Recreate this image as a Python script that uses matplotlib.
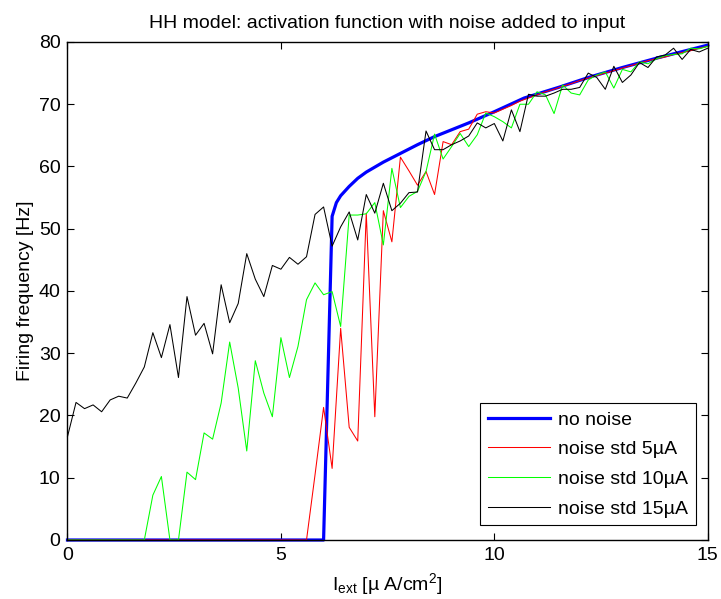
# HH model firing rate vs input current, with noisy input
import matplotlib
matplotlib.use("Agg")
import matplotlib.pyplot as plt
import numpy as np

# input current grid (0:0.2:15)
I_ext = np.linspace(0, 15, 76)

# no noise curve (read at key points)
I_clean = [0, 6.0, 6.2, 6.3, 6.4, 6.6, 6.8, 7.0, 7.4, 7.8, 8.2, 8.6, 9.0, 9.4,
           10.0, 10.7, 11.5, 12.25, 13.0, 13.8, 14.6, 15.0]
f_clean = [0, 0, 52.0, 54.2, 55.3, 56.8, 58.1, 59.1, 60.7, 62.1, 63.5, 64.8,
           65.9, 67.0, 68.8, 71.0, 72.7, 74.4, 75.9, 77.4, 78.8, 79.5]

f_std5 = [0] * 29 + [
    10.5, 21.3, 11.5, 34.0, 18.1, 15.9, 52.5, 19.8, 52.9, 47.9,
    61.5, 59.3, 57.0, 59.2, 55.5, 64.0, 63.5, 65.6, 66.0, 68.4,
    68.8, 68.6, 69.2, 69.8, 70.5, 71.0, 71.5, 72.0, 72.4, 72.9,
    73.3, 73.8, 74.2, 74.6, 75.0, 75.4, 75.8, 76.2, 76.6, 77.0,
    77.3, 77.6, 78.0, 78.3, 78.6, 79.0, 79.3]

f_std10 = [0] * 10 + [
    7.2, 10.2, 0, 0, 10.9, 9.7, 17.2, 16.2, 22.0, 31.8,
    24.4, 14.3, 28.8, 23.6, 19.8, 32.5, 26.1, 31.1, 38.6, 41.3,
    39.4, 39.9, 34.3, 52.2, 52.2, 52.4, 54.2, 47.4, 59.7, 53.4,
    55.2, 56.0, 59.2, 65.2, 61.2, 63.2, 65.3, 63.2, 65.1, 68.6,
    68.0, 67.2, 66.2, 70.0, 70.0, 72.0, 71.5, 68.5, 73.1, 71.8,
    71.5, 73.9, 74.7, 75.2, 72.6, 75.6, 75.2, 76.8, 76.5, 77.3,
    77.8, 78.0, 78.1, 79.0, 78.9, 79.3]

f_std15 = [
    16.6, 22.1, 21.1, 21.7, 20.6, 22.5, 23.1, 22.8, 25.2, 27.8,
    33.3, 29.3, 34.6, 26.1, 39.1, 32.9, 34.8, 29.9, 41.0, 34.9,
    38.0, 46.0, 41.9, 39.1, 44.1, 43.5, 45.4, 44.3, 45.5, 52.3,
    53.5, 47.2, 50.3, 52.7, 48.2, 55.5, 52.5, 57.3, 52.9, 54.1,
    55.8, 55.9, 65.7, 62.7, 62.7, 63.5, 64.1, 64.9, 67.0, 66.2,
    66.9, 64.1, 69.1, 65.6, 71.6, 71.3, 71.3, 71.8, 72.4, 72.4,
    72.7, 75.0, 74.3, 72.4, 76.1, 73.5, 74.7, 76.7, 75.9, 77.6,
    77.9, 79.0, 77.2, 78.8, 78.4, 79.0]

labels = ["no noise", "noise std 5\u00b5A", "noise std 10\u00b5A", "noise std 15\u00b5A"]

plt.rcParams["font.family"] = ["Liberation Sans", "DejaVu Sans"]
plt.rcParams["mathtext.fontset"] = "custom"
plt.rcParams["mathtext.rm"] = "Liberation Sans"
plt.rcParams["mathtext.it"] = "Liberation Sans"
plt.rcParams["mathtext.default"] = "regular"

fs = 14

fig = plt.figure(figsize=(7.21, 5.99), dpi=100)
ax = fig.add_axes([0.0936, 0.0985, 0.888, 0.8314])

ax.plot(I_clean, f_clean, color=(0, 0, 1), linewidth=2.3, clip_on=False, label=labels[0])
ax.plot(I_ext, f_std5, color=(1, 0, 0), linewidth=0.75, clip_on=False, label=labels[1])
ax.plot(I_ext, f_std10, color=(0, 1, 0), linewidth=0.75, clip_on=False, label=labels[2])
ax.plot(I_ext, f_std15, color="black", linewidth=0.75, clip_on=False, label=labels[3])

ax.set_xlim(0, 15)
ax.set_ylim(0, 80)
ax.set_xticks([0, 5, 10, 15])
ax.set_yticks(range(0, 81, 10))
ax.tick_params(direction="in", top=True, right=True, length=5, width=0.8,
               labelsize=fs, pad=5)
for s in ax.spines.values():
    s.set_linewidth(1.0)

ax.set_title("HH model: activation function with noise added to input", fontsize=fs, pad=10)
ax.set_xlabel("I$_{ext}$ [\u00b5 A/cm$^{2}$]", fontsize=fs, labelpad=5)
ax.set_ylabel("Firing frequency [Hz]", fontsize=fs, labelpad=3)

leg = ax.legend(loc="lower right", bbox_to_anchor=(1.004, 0), fontsize=fs,
                fancybox=False, edgecolor="black", framealpha=1,
                handlelength=3.2, handletextpad=0.4, labelspacing=0.62,
                borderaxespad=0.75, borderpad=0.4)
leg.get_frame().set_linewidth(0.8)

fig.savefig("out.png", dpi=100)
